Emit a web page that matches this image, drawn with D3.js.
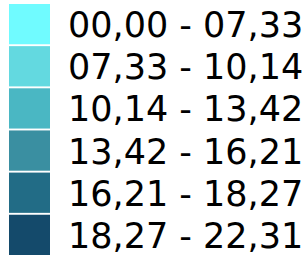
<!DOCTYPE html>
<html>
<head>
<meta charset="utf-8">
<script src="https://cdn.jsdelivr.net/npm/d3@7"></script>
<style>
  body { margin: 0; background: #fff; }
</style>
</head>
<body>
<script>
var labels = ["00,00 - 07,33", "07,33 - 10,14", "10,14 - 13,42",
              "13,42 - 16,21", "16,21 - 18,27", "18,27 - 22,31"];
var colors = ["#70fbff", "#63d9e0", "#4ab7c3", "#3a8fa1", "#226c86", "#144a6b"];

var width = 308,
    height = 263;

var svg = d3.select("body").append("svg")
    .attr("width", width)
    .attr("height", height);

var y = d3.scaleBand()
    .domain(d3.range(labels.length))
    .range([4, 255])
    .paddingInner(0.045)
    .paddingOuter(0);

var row = svg.selectAll("g")
    .data(labels)
    .enter().append("g")
    .attr("transform", function(d, i) { return "translate(0," + y(i) + ")"; });

row.append("rect")
    .attr("x", 9)
    .attr("width", 41)
    .attr("height", y.bandwidth())
    .attr("fill", function(d, i) { return colors[i]; });

row.append("text")
    .attr("x", 68)
    .attr("y", y.bandwidth() / 2 + 13)
    .attr("font-family", "DejaVu Sans")
    .attr("font-size", 35)
    .attr("fill", "#000")
    .text(function(d) { return d; });
</script>
</body>
</html>
